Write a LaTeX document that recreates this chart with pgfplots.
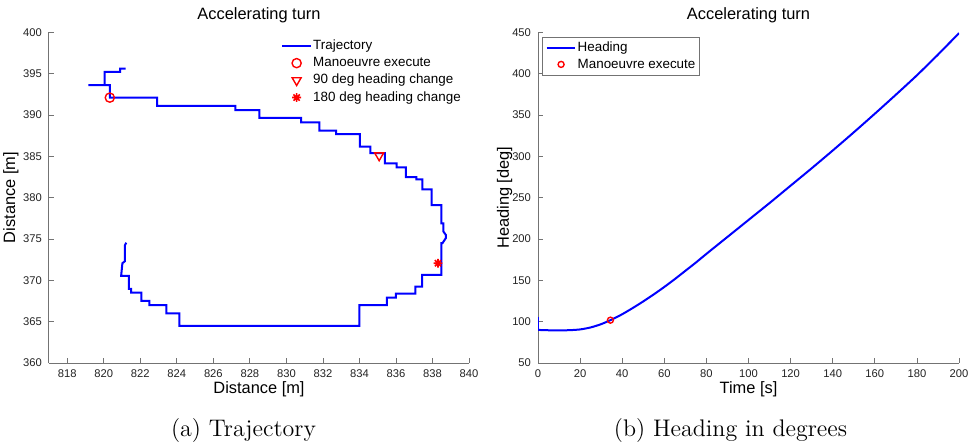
\documentclass[border=0pt]{standalone}
\usepackage{pgfplots}
\pgfplotsset{compat=1.18}
\usepackage{fontspec}
\newfontfamily\helv{Liberation Sans}

\definecolor{trajblue}{RGB}{0,0,255}
\definecolor{mkred}{RGB}{255,0,0}
\definecolor{axgray}{RGB}{115,115,115}
\definecolor{txt}{RGB}{35,35,35}

% MATLAB-like "*" marker: a plus and a cross on top of each other
\pgfdeclareplotmark{star8}{%
  \pgfpathmoveto{\pgfqpoint{-\pgfplotmarksize}{0pt}}%
  \pgfpathlineto{\pgfqpoint{\pgfplotmarksize}{0pt}}%
  \pgfpathmoveto{\pgfqpoint{0pt}{-\pgfplotmarksize}}%
  \pgfpathlineto{\pgfqpoint{0pt}{\pgfplotmarksize}}%
  \pgfpathmoveto{\pgfqpoint{-0.707\pgfplotmarksize}{-0.707\pgfplotmarksize}}%
  \pgfpathlineto{\pgfqpoint{0.707\pgfplotmarksize}{0.707\pgfplotmarksize}}%
  \pgfpathmoveto{\pgfqpoint{-0.707\pgfplotmarksize}{0.707\pgfplotmarksize}}%
  \pgfpathlineto{\pgfqpoint{0.707\pgfplotmarksize}{-0.707\pgfplotmarksize}}%
  \pgfusepathqstroke}

\pgfplotsset{
  matlab/.style={
    scale only axis,
    width=210pt, height=165.35pt,
    axis lines=left,
    axis line style={-, draw=axgray, line width=0.5pt},
    tick align=inside,
    tick style={draw=axgray, line width=0.4pt},
    major tick length=2.5pt,
    /pgf/number format/assume math mode=true,
    tick label style={font=\helv\fontsize{5.6}{6}\selectfont, text=txt},
    label style={font=\helv\fontsize{8.2}{9}\selectfont, text=black},
    xlabel style={at={(axis description cs:0.5,0)}, anchor=base, yshift=-15pt},
    title style={font=\helv\fontsize{8.2}{9}\selectfont, at={(axis description cs:0.5,1)},
      anchor=base, yshift=0.6pt},
    legend cell align=left,
  },
  shortline/.style={legend image code/.code={\draw[##1] (0pt,0pt) -- (14.4pt,0pt);}},
  shortmark/.style={legend image code/.code={\draw[mark repeat=2,mark phase=2,##1]
      plot coordinates {(0pt,0pt) (7.2pt,0pt) (14.4pt,0pt)};}},
}

\begin{document}
\begin{tikzpicture}
\useasboundingbox (0,0) rectangle (487pt,222.5pt);

% ---------------- (a) trajectory ----------------
\begin{axis}[matlab,
  at={(24.5pt,41pt)}, anchor=south west,
  title={Accelerating turn},
  xlabel={Distance [m]}, ylabel={Distance [m]},
  ylabel style={at={(axis description cs:-0.091,0.5)}, anchor=center},
  xmin=817, xmax=840, ymin=360, ymax=400,
  xtick={818,820,...,840}, ytick={360,365,...,400},
  legend style={at={(0.552,0.983)}, anchor=north west, draw=none, fill=none,
    inner sep=0pt, font=\helv\fontsize{6.7}{7}\selectfont, row sep=1pt,
    nodes={inner sep=0.6pt, text height=5pt, text depth=1.4pt}},
]
\addplot[trajblue, line width=1pt, line join=miter, shortline] coordinates {
  (821.2,395.6) (820.9,395.6) (820.9,395.2) (820.05,395.2) (820.05,393.6)
  (819.15,393.6) (820.33,393.6) (820.33,392.1) (822.92,392.1) (822.92,391.1)
  (827.2,391.1) (827.2,390.6) (828.52,390.6) (828.52,389.65) (830.8,389.65)
  (830.8,389.1) (831.8,389.1) (831.8,388.1) (832.72,388.1) (832.72,387.67)
  (834.03,387.67) (834.03,386.17) (834.6,386.17) (834.6,385.4) (835.39,385.4)
  (835.39,384.16) (836.03,384.16) (836.03,383.67) (836.54,383.67) (836.54,382.47)
  (837.12,382.47) (837.12,382.2) (837.45,382.2) (837.45,381.0) (837.95,381.0)
  (837.95,379.1) (838.49,379.1) (838.49,376.9) (838.6,376.9) (838.6,375.9)
  (838.73,375.5) (838.73,375.1) (838.55,374.5) (838.49,374.5) (838.49,370.65)
  (837.43,370.65) (837.43,369.24) (837.07,369.24) (837.07,368.4) (836.0,368.4)
  (836.0,367.9) (835.5,367.9) (835.5,367.0) (834.0,367.0) (834.0,364.5)
  (824.14,364.5) (824.14,366.0) (823.43,366.0) (823.43,367.0) (822.5,367.0)
  (822.5,367.5) (822.06,367.5) (822.06,368.5) (821.5,368.5) (821.5,368.96)
  (821.37,368.96) (821.37,370.53) (820.95,370.53) (821.02,372.07) (821.15,372.3)
  (821.15,374.2) (821.23,374.56)
};
\addlegendentry{Trajectory}
\addplot[only marks, mark=o, mark size=2.3pt, mkred,
  mark options={line width=0.7pt}, shortmark] coordinates {(820.33,392.1)};
\addlegendentry{Manoeuvre execute}
\addplot[only marks, mark=triangle, mark size=2.6pt, mkred,
  mark options={rotate=180, line width=0.7pt}, shortmark] coordinates {(835.08,385.1)};
\addlegendentry{90 deg heading change}
\addplot[only marks, mark=star8, mark size=2.2pt, mkred,
  mark options={line width=0.8pt}, shortmark] coordinates {(838.3,372.07)};
\addlegendentry{180 deg heading change}
\end{axis}

% ---------------- (b) heading ----------------
\begin{axis}[matlab,
  at={(269pt,41pt)}, anchor=south west,
  width=210.5pt,
  title={Accelerating turn},
  xlabel={Time [s]}, ylabel={Heading [deg]},
  ylabel style={at={(axis description cs:-0.079,0.5)}, anchor=center},
  xmin=0, xmax=200, ymin=50, ymax=450,
  xtick={0,20,...,200}, ytick={50,100,...,450},
  legend style={at={(0.0102,0.987)}, anchor=north west, draw=axgray, fill=white,
    line width=0.4pt, inner sep=1.5pt, font=\helv\fontsize{6.7}{7}\selectfont, row sep=0.8pt,
    nodes={inner sep=0.6pt, text height=5pt, text depth=1.4pt}},
]
\addplot[trajblue, line width=1pt, smooth, tension=0.4, shortline] coordinates {
  (0.3,90) (5,89.6) (10,89.5) (15,89.7) (20,90.6) (25,93) (30,97) (35,102.5)
  (40,109) (45,116.5) (50,124.5) (55,133) (60,142) (65,151.5) (70,161.5)
  (75,171.5) (80,182) (90,202.5) (100,223) (110,243.5) (120,264.5) (130,285.5)
  (140,307) (150,329) (160,351.5) (170,374.5) (180,398) (190,423) (200,449)
};
\addlegendentry{Heading}
\addplot[trajblue, line width=1pt, forget plot] coordinates {(0,106) (0,90) (0.3,90)};
\addplot[only marks, mark=o, mark size=1.5pt, mkred,
  mark options={line width=0.7pt}, shortmark] coordinates {(34.4,101.8)};
\addlegendentry{Manoeuvre execute}
\end{axis}

% sub-figure captions
\node[font=\fontsize{12}{14}\selectfont, anchor=base] at (121.75pt,4.5pt) {(a) Trajectory};
\node[font=\fontsize{12}{14}\selectfont, anchor=base] at (365.25pt,4.5pt) {(b) Heading in degrees};
\end{tikzpicture}
\end{document}
